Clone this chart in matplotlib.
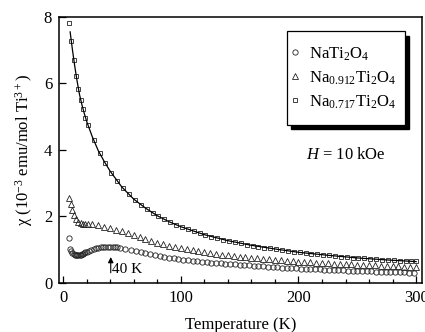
import numpy as np
import matplotlib
matplotlib.use("Agg")
import matplotlib.pyplot as plt
from matplotlib.ticker import MultipleLocator
from matplotlib.patches import Rectangle

plt.rcParams['font.family'] = ['Liberation Serif', 'DejaVu Serif']
plt.rcParams['mathtext.fontset'] = 'custom'
plt.rcParams['mathtext.rm'] = 'Liberation Serif'
plt.rcParams['mathtext.it'] = 'Liberation Serif:italic'

# NaTi2O4 (circles)
t_circ = [5, 6, 7, 8, 9, 10, 11, 12, 13, 14, 15, 16, 17, 18, 19, 20, 22, 24, 26, 28,
          30, 32, 34, 36, 38, 40, 42, 44, 46, 48, 53,
          58, 62, 66, 70, 74, 78, 82, 86, 90, 94, 98, 102, 106, 110, 114, 118, 122, 126,
          130, 134, 138, 142, 146, 150, 154, 158, 162, 166, 170, 174, 178, 182, 186, 190,
          194, 198, 202, 206, 210, 214, 218, 222, 226, 230, 234, 238, 242, 246, 250, 254,
          258, 262, 266, 270, 274, 278, 282, 286, 290, 294, 298]
chi_circ = [1.35, 1.02, 0.95, 0.90, 0.87, 0.85, 0.84, 0.83, 0.83, 0.84, 0.85, 0.86, 0.88,
            0.90, 0.92, 0.94, 0.97, 1.00, 1.03, 1.05, 1.06, 1.07, 1.08, 1.08, 1.08, 1.08,
            1.08, 1.07, 1.07, 1.06, 1.03,
            0.99, 0.96, 0.92, 0.89, 0.86, 0.83, 0.81, 0.78, 0.76, 0.74, 0.72, 0.70, 0.685,
            0.67, 0.655, 0.64, 0.625, 0.61, 0.60, 0.59, 0.575, 0.565, 0.555, 0.545, 0.535,
            0.525, 0.515, 0.505, 0.495, 0.485, 0.475, 0.47, 0.46, 0.455, 0.445, 0.44, 0.43,
            0.425, 0.42, 0.41, 0.405, 0.40, 0.39, 0.385, 0.38, 0.375, 0.37, 0.365, 0.36,
            0.355, 0.35, 0.345, 0.34, 0.335, 0.33, 0.325, 0.32, 0.32, 0.315, 0.31, 0.31]

# Na0.912Ti2O4 (triangles)
t_tri = [5, 6.5, 8, 9.5, 11, 13, 15, 17, 19, 21,
         25, 30, 35, 40, 45, 50, 55, 60, 65, 70, 75, 80, 85, 90, 95, 100, 105, 110, 115,
         120, 125, 130, 135, 140, 145, 150, 155, 160, 165, 170, 175, 180, 185, 190, 195,
         200, 205, 210, 215, 220, 225, 230, 235, 240, 245, 250, 255, 260, 265, 270, 275,
         280, 285, 290, 295, 300]
chi_tri = [2.55, 2.38, 2.20, 2.03, 1.92, 1.83, 1.80, 1.78, 1.77, 1.77,
           1.76, 1.73, 1.69, 1.65, 1.60, 1.55, 1.49, 1.43, 1.37, 1.32, 1.26, 1.21, 1.17,
           1.12, 1.08, 1.04, 1.01, 0.98, 0.95, 0.92, 0.89, 0.87, 0.85, 0.83, 0.81, 0.79,
           0.77, 0.75, 0.74, 0.72, 0.71, 0.69, 0.68, 0.66, 0.65, 0.64, 0.63, 0.62, 0.61,
           0.60, 0.59, 0.58, 0.57, 0.565, 0.555, 0.55, 0.54, 0.53, 0.525, 0.515, 0.51,
           0.50, 0.495, 0.49, 0.485, 0.48]

# Na0.717Ti2O4 (squares)
t_sq = [5.4, 6.8, 9.1, 11.3, 13, 15, 17, 19, 21, 26, 31, 36, 41, 46, 51, 56, 61, 66, 71,
        76, 81, 86, 91, 96, 101, 106, 111, 116, 121, 126, 131, 136, 141, 146, 151, 156,
        161, 166, 171, 176, 181, 186, 191, 196, 201, 206, 211, 216, 221, 226, 231, 236,
        241, 246, 251, 256, 261, 266, 271, 276, 281, 286, 291, 296, 300]
chi_sq = [7.81, 7.29, 6.70, 6.23, 5.83, 5.50, 5.23, 4.97, 4.75, 4.29, 3.90, 3.60, 3.30,
          3.05, 2.84, 2.66, 2.49, 2.35, 2.22, 2.11, 2.00, 1.91, 1.82, 1.75, 1.67, 1.61,
          1.55, 1.49, 1.44, 1.39, 1.34, 1.30, 1.26, 1.22, 1.19, 1.15, 1.12, 1.09, 1.06,
          1.04, 1.01, 0.99, 0.96, 0.94, 0.92, 0.90, 0.88, 0.86, 0.84, 0.83, 0.81, 0.79,
          0.78, 0.76, 0.75, 0.74, 0.72, 0.71, 0.70, 0.69, 0.68, 0.67, 0.66, 0.66, 0.66]

# Curie-Weiss fit line
t_fit = [6, 8, 10, 12, 14, 16, 18, 20, 25, 30, 35, 40, 50, 60, 70, 80, 90, 100, 120, 140,
         160, 180, 200, 225, 250, 275, 300]
chi_fit = [7.55, 7.00, 6.50, 6.05, 5.66, 5.36, 5.10, 4.86, 4.38, 3.97, 3.65, 3.36, 2.88,
           2.52, 2.25, 2.02, 1.84, 1.69, 1.45, 1.27, 1.13, 1.02, 0.92, 0.83, 0.75, 0.69,
           0.64]

labels = ['NaTi$_2$O$_4$', 'Na$_{0.912}$Ti$_2$O$_4$', 'Na$_{0.717}$Ti$_2$O$_4$']

fig = plt.figure(figsize=(4.25, 3.32), dpi=100)
ax = fig.add_axes([0.139, 0.148, 0.854, 0.801])

mk = dict(linestyle='none', fillstyle='none', color='#222222', markeredgewidth=0.6)
ax.plot(t_circ, chi_circ, marker='o', markersize=3.8, label=labels[0], **mk)
ax.plot(t_tri, chi_tri, marker='^', markersize=4.2, label=labels[1], **mk)
ax.plot(t_sq, chi_sq, marker='s', markersize=3.5, label=labels[2], **mk)
ax.plot(t_fit, chi_fit, color='k', linewidth=0.9)

ax.set_xlim(-3.4, 305)
ax.set_ylim(0, 8)
ax.xaxis.set_major_locator(MultipleLocator(100))
ax.xaxis.set_minor_locator(MultipleLocator(20))
ax.yaxis.set_major_locator(MultipleLocator(2))
ax.tick_params(which='both', direction='in', labelsize=12, width=0.9)
ax.tick_params(which='major', length=5, pad=5)
ax.tick_params(which='minor', length=3)
for sp in ax.spines.values():
    sp.set_linewidth(1.1)

ax.set_xlabel('Temperature (K)', fontsize=12, labelpad=8)
ax.set_ylabel('χ (10$^{-3}$ emu/mol Ti$^{3+}$)', fontsize=12, labelpad=6)

# legend box with a solid black drop shadow
bx0, by0, bw, bh = 0.628, 0.594, 0.325, 0.353
ax.add_patch(Rectangle((bx0 + 0.012, by0 - 0.017), bw, bh, transform=ax.transAxes,
                       facecolor='k', edgecolor='k', zorder=4))
ax.add_patch(Rectangle((bx0, by0), bw, bh, transform=ax.transAxes,
                       facecolor='white', edgecolor='k', linewidth=0.9, zorder=5))
leg = ax.legend(loc='center left', bbox_to_anchor=(bx0, by0 + bh / 2), fontsize=12,
                frameon=False, handlelength=0.6, handletextpad=0.5, borderpad=0.2,
                labelspacing=0.4, borderaxespad=0)
leg.set_zorder(6)

ax.text(240, 3.85, '$H$ = 10 kOe', fontsize=12, ha='center', va='center')
ax.annotate('', xy=(40.5, 0.86), xytext=(40.5, 0.22),
            arrowprops=dict(arrowstyle='-|>', color='k', lw=0.8, mutation_scale=8))
ax.text(41.5, 0.39, '40 K', fontsize=11, ha='left', va='center')

fig.savefig('out.png', dpi=100)
